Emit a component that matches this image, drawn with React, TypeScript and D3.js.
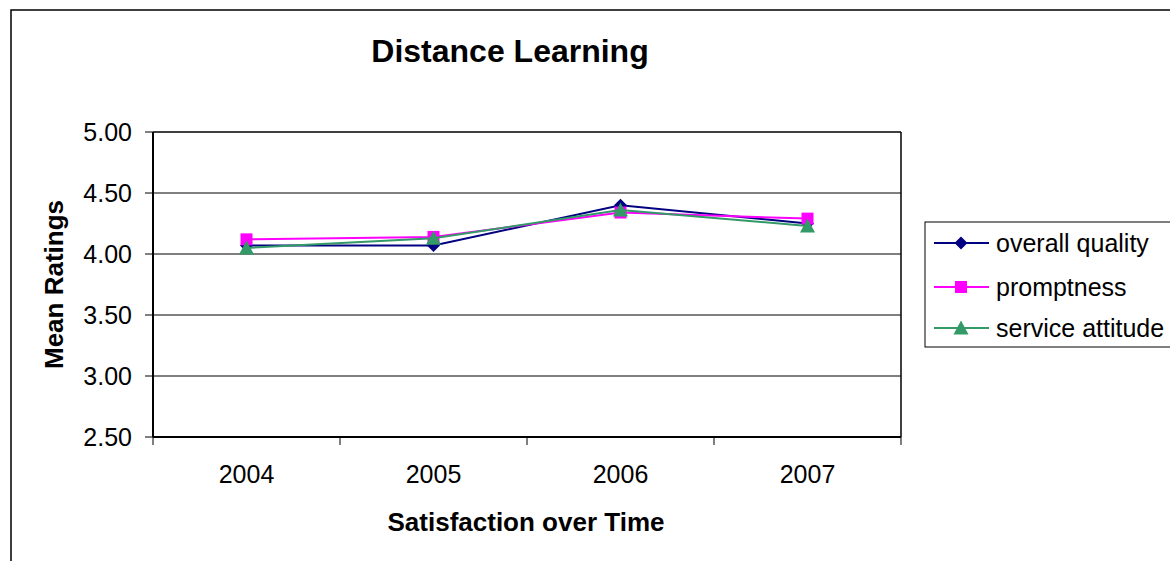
import React from "react";
import * as d3 from "d3";

const years = ["2004", "2005", "2006", "2007"];
const overallQuality = [4.07, 4.07, 4.4, 4.25];
const promptness = [4.12, 4.14, 4.34, 4.29];
const serviceAttitude = [4.05, 4.13, 4.36, 4.23];
const yTicks = [2.5, 3.0, 3.5, 4.0, 4.5, 5.0];

const seriesNames = ["overall quality", "promptness", "service attitude"];
const seriesColors = ["#000080", "#FF00FF", "#339966"];
const seriesMarkers = ["diamond", "square", "triangle"];

const W = 1170;
const H = 561;
const FONT = "'Liberation Sans', Arial, Helvetica, sans-serif";

const plot = { left: 153, right: 901, top: 132, bottom: 437 };

function Marker({ type, x, y, color }: { type: string; x: number; y: number; color: string }) {
  if (type === "diamond") {
    const r = 6.5;
    return <path d={`M${x},${y - r}L${x + r},${y}L${x},${y + r}L${x - r},${y}Z`} fill={color} />;
  }
  if (type === "square") {
    const s = 12;
    return <rect x={x - s / 2} y={y - s / 2} width={s} height={s} fill={color} />;
  }
  const r = 7.5;
  return <path d={`M${x},${y - 7.5}L${x + r},${y + 6.5}L${x - r},${y + 6.5}Z`} fill={color} />;
}

export default function App() {
  const data = [overallQuality, promptness, serviceAttitude];
  const x = d3.scaleBand<string>().domain(years).range([plot.left, plot.right]);
  const y = d3.scaleLinear().domain([2.5, 5]).range([plot.bottom, plot.top]);
  const cx = (yr: string) => (x(yr) as number) + x.bandwidth() / 2;
  const line = d3
    .line<number>()
    .x((_, i) => cx(years[i]))
    .y((v) => y(v));
  const boundaries = [...years.map((yr) => x(yr) as number), plot.right];

  return (
    <svg
      width={W}
      height={H}
      style={{ position: "absolute", left: 0, top: 0, background: "#fff" }}
      fontFamily={FONT}
    >
      <rect x={0} y={0} width={W} height={H} fill="#fff" />
      {/* outer frame */}
      <rect x={11} y={10} width={W + 20} height={H + 20} fill="none" stroke="#000" strokeWidth={1.5} />

      {/* title */}
      <text x={510} y={62} textAnchor="middle" fontSize={32} fontWeight="bold" fill="#000">
        Distance Learning
      </text>

      {/* gridlines */}
      {yTicks.map((t) => (
        <line key={t} x1={plot.left} x2={plot.right} y1={y(t)} y2={y(t)} stroke="#000" strokeWidth={1} />
      ))}
      {/* plot border */}
      <line x1={plot.right} x2={plot.right} y1={plot.top} y2={plot.bottom} stroke="#000" strokeWidth={1.5} />
      <line x1={plot.left} x2={plot.right} y1={plot.top} y2={plot.top} stroke="#000" strokeWidth={1} />
      {/* axes */}
      <line x1={plot.left} x2={plot.left} y1={plot.top} y2={plot.bottom} stroke="#000" strokeWidth={2} />
      <line x1={plot.left} x2={plot.right} y1={plot.bottom} y2={plot.bottom} stroke="#000" strokeWidth={2} />

      {/* y ticks */}
      {yTicks.map((t) => (
        <g key={t}>
          <line x1={plot.left - 8} x2={plot.left} y1={y(t)} y2={y(t)} stroke="#000" strokeWidth={1} />
          <text x={132} y={y(t) + 9} textAnchor="end" fontSize={25} fill="#000">
            {t.toFixed(2)}
          </text>
        </g>
      ))}
      {/* x ticks */}
      {boundaries.map((b, i) => (
        <line key={i} x1={b} x2={b} y1={plot.bottom} y2={plot.bottom + 8} stroke="#000" strokeWidth={1} />
      ))}
      {years.map((yr) => (
        <text key={yr} x={cx(yr)} y={483} textAnchor="middle" fontSize={25} fill="#000">
          {yr}
        </text>
      ))}

      {/* axis titles */}
      <text x={526} y={531} textAnchor="middle" fontSize={26} fontWeight="bold" fill="#000">
        Satisfaction over Time
      </text>
      <text
        transform={`translate(63,${(plot.top + plot.bottom) / 2}) rotate(-90)`}
        textAnchor="middle"
        fontSize={26}
        fontWeight="bold"
        fill="#000"
      >
        Mean Ratings
      </text>

      {/* series */}
      {data.map((vals, si) => (
        <g key={si}>
          <path d={line(vals) || ""} fill="none" stroke={seriesColors[si]} strokeWidth={2} />
          {vals.map((v, i) => (
            <Marker key={i} type={seriesMarkers[si]} x={cx(years[i])} y={y(v)} color={seriesColors[si]} />
          ))}
        </g>
      ))}

      {/* legend */}
      <rect x={925} y={222} width={260} height={125} fill="#fff" stroke="#000" strokeWidth={1} />
      {seriesNames.map((name, i) => {
        const ly = [243, 287, 328][i];
        return (
          <g key={name}>
            <line x1={934} x2={989} y1={ly} y2={ly} stroke={seriesColors[i]} strokeWidth={2} />
            <Marker type={seriesMarkers[i]} x={961} y={ly} color={seriesColors[i]} />
            <text x={996} y={ly + 9} fontSize={25} fill="#000">
              {name}
            </text>
          </g>
        );
      })}
    </svg>
  );
}
